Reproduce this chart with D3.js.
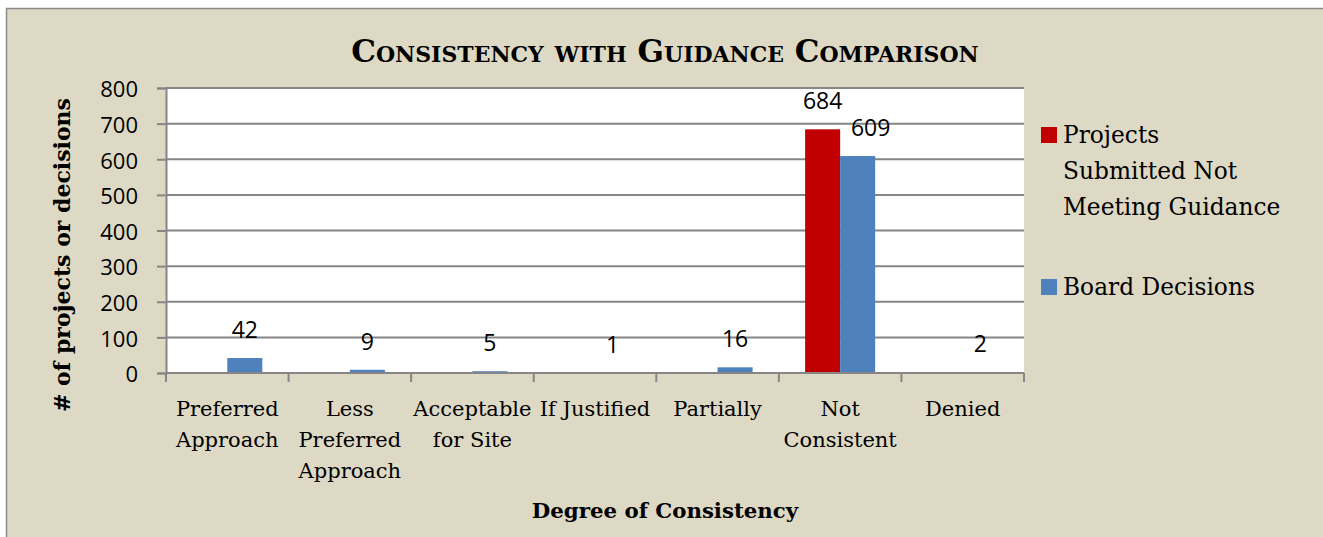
<!DOCTYPE html>
<html lang="en">
<head>
<meta charset="UTF-8">
<script src="https://cdn.jsdelivr.net/npm/d3@7"></script>
<style>
  body { margin: 0; background: #fff; }
  svg { display: block; }
  .serif { font-family: "DejaVu Serif", serif; }
  .sans { font-family: "Open Sans", sans-serif; }
</style>
</head>
<body>
<svg id="chart" width="1323" height="537"></svg>
<script>
var categories = [["Preferred", "Approach"], ["Less", "Preferred", "Approach"], ["Acceptable", "for Site"], ["If Justified"], ["Partially"], ["Not", "Consistent"], ["Denied"]];
var submitted = [null, null, null, null, null, 684, null];
var board = [42, 9, 5, 1, 16, 609, 2];
var yTicks = [0, 100, 200, 300, 400, 500, 600, 700, 800];
var seriesNames = [["Projects", "Submitted Not", "Meeting Guidance"], ["Board Decisions"]];
var colors = ["#C00000", "#4F81BD"];

var svg = d3.select("#chart");
var W = 1323, H = 537;

svg.append("rect").attr("x", 0).attr("y", 0).attr("width", W).attr("height", H).attr("fill", "#fff");
svg.append("rect").attr("x", 6.5).attr("y", 8.5).attr("width", W + 10).attr("height", H + 10)
  .attr("fill", "#DDD9C4").attr("stroke", "#8a8a8a").attr("stroke-width", 1.5);

var plot = { left: 166, top: 88, right: 1024, bottom: 373 };

var x = d3.scaleBand().domain(d3.range(categories.length)).range([plot.left, plot.right]);
var y = d3.scaleLinear().domain([0, 800]).range([plot.bottom, plot.top]);
var bw = x.bandwidth() / 3.5;   // two bars + 150% gap

// plot area
svg.append("rect").attr("x", plot.left).attr("y", plot.top)
  .attr("width", plot.right - plot.left).attr("height", plot.bottom - plot.top).attr("fill", "#fff");

// gridlines
svg.append("g").selectAll("line").data(yTicks.slice(1)).enter().append("line")
  .attr("x1", plot.left).attr("x2", plot.right)
  .attr("y1", function(d) { return y(d); }).attr("y2", function(d) { return y(d); })
  .attr("stroke", "#868686").attr("stroke-width", 2);

// y axis
var yAxis = svg.append("g").attr("transform", "translate(" + plot.left + ",0)")
  .call(d3.axisLeft(y).tickValues(yTicks).tickSize(9).tickPadding(19));
yAxis.select(".domain").attr("stroke", "#868686").attr("stroke-width", 2);
yAxis.selectAll(".tick line").attr("stroke", "#868686").attr("stroke-width", 2);
yAxis.selectAll(".tick text").attr("class", "sans").style("font-size", "22px").attr("fill", "#000").attr("dy", "0.4em");

// bars + labels
var series = [submitted, board];
series.forEach(function(vals, s) {
  var g = svg.append("g");
  vals.forEach(function(v, i) {
    if (v == null) return;
    var bx = x(i) + bw * 0.75 + s * bw;
    g.append("rect").attr("x", bx).attr("y", y(v)).attr("width", bw).attr("height", plot.bottom - y(v))
      .attr("fill", colors[s]);
    // nudge the second label right when both bars of a group carry labels
    var dx = (s === 1 && submitted[i] != null) ? 13 : 0;
    g.append("text").attr("class", "sans").attr("x", bx + bw / 2 + dx).attr("y", y(v) - 20)
      .attr("text-anchor", "middle").style("font-size", "23px").attr("fill", "#000").text(v);
  });
});

// x axis
var xAxisG = svg.append("g");
xAxisG.append("line").attr("x1", plot.left).attr("x2", plot.right).attr("y1", plot.bottom).attr("y2", plot.bottom)
  .attr("stroke", "#868686").attr("stroke-width", 2);
var bounds = d3.range(categories.length + 1).map(function(i) { return plot.left + i * x.step(); });
xAxisG.selectAll(".xt").data(bounds).enter().append("line")
  .attr("x1", function(d) { return d; }).attr("x2", function(d) { return d; })
  .attr("y1", plot.bottom).attr("y2", plot.bottom + 9)
  .attr("stroke", "#868686").attr("stroke-width", 2);

categories.forEach(function(lines, i) {
  var t = svg.append("text").attr("class", "serif").attr("text-anchor", "middle")
    .style("font-size", "21px").attr("fill", "#000");
  lines.forEach(function(l, k) {
    t.append("tspan").attr("x", x(i) + x.bandwidth() / 2).attr("y", 416 + k * 31).text(l);
  });
});

// title
svg.append("text").attr("class", "serif").attr("x", 665).attr("y", 62).attr("text-anchor", "middle")
  .style("font-size", "31px").style("font-weight", "bold").style("font-variant", "small-caps")
  .attr("fill", "#000").text("Consistency with Guidance Comparison");

// axis titles
svg.append("text").attr("class", "serif").attr("transform", "translate(70,255) rotate(-90)")
  .attr("text-anchor", "middle").style("font-size", "22px").style("font-weight", "bold")
  .attr("fill", "#000").text("# of projects or decisions");
svg.append("text").attr("class", "serif").attr("x", 665).attr("y", 518).attr("text-anchor", "middle")
  .style("font-size", "21.3px").style("font-weight", "bold").attr("fill", "#000").text("Degree of Consistency");

// legend
var legendY = [127, 279];
seriesNames.forEach(function(lines, s) {
  svg.append("rect").attr("x", 1041).attr("y", legendY[s]).attr("width", 16).attr("height", 16).attr("fill", colors[s]);
  var t = svg.append("text").attr("class", "serif").style("font-size", "23.3px").attr("fill", "#000");
  lines.forEach(function(l, k) {
    t.append("tspan").attr("x", 1063).attr("y", legendY[s] + 16 + k * 36).text(l);
  });
});
</script>
</body>
</html>
